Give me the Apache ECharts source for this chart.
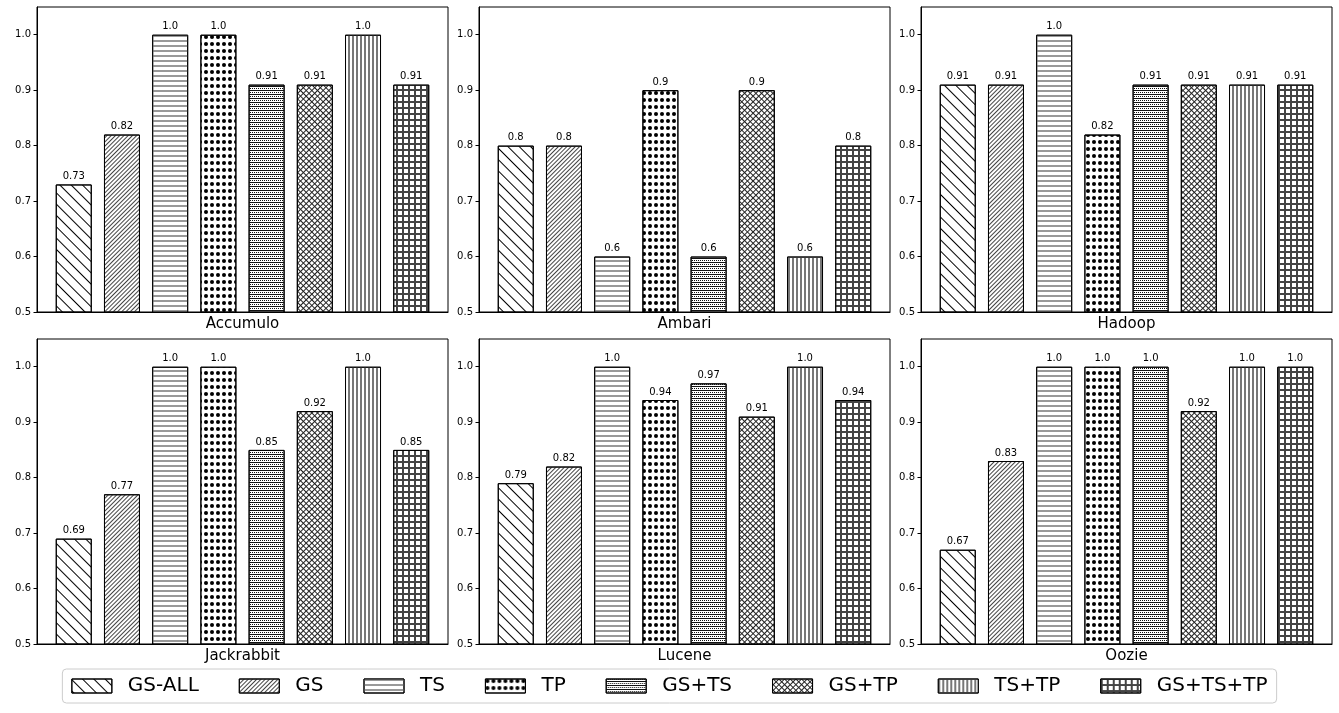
<!DOCTYPE html>
<html>
<head>
<meta charset="utf-8">
<title>Bars</title>
<script src="https://cdn.jsdelivr.net/npm/echarts@6/dist/echarts.min.js"></script>
<style>
    html, body { margin: 0; padding: 0; background: #fff; }
    #chart { width: 1339px; height: 713px; }
</style>
</head>
<body>
<div id="chart"></div>
<script>
// 方法 / 项目
var methods = ['GS-ALL', 'GS', 'TS', 'TP', 'GS+TS', 'GS+TP', 'TS+TP', 'GS+TS+TP'];
var projects = ['Accumulo', 'Ambari', 'Hadoop', 'Jackrabbit', 'Lucene', 'Oozie'];

// 每个项目的数值 (顺序同 methods)
var accumulo   = [0.73, 0.82, 1.0, 1.0, 0.91, 0.91, 1.0, 0.91];
var ambari     = [0.8, 0.8, 0.6, 0.9, 0.6, 0.9, 0.6, 0.8];
var hadoop     = [0.91, 0.91, 1.0, 0.82, 0.91, 0.91, 0.91, 0.91];
var jackrabbit = [0.69, 0.77, 1.0, 1.0, 0.85, 0.92, 1.0, 0.85];
var lucene     = [0.79, 0.82, 1.0, 0.94, 0.97, 0.91, 1.0, 0.94];
var oozie      = [0.67, 0.83, 1.0, 1.0, 1.0, 0.92, 1.0, 1.0];
var values = [accumulo, ambari, hadoop, jackrabbit, lucene, oozie];

var yTicks = [0.5, 0.6, 0.7, 0.8, 0.9, 1.0];

var FONT = 'DejaVu Sans';

// 填充纹理 (模仿 hatch)
var decals = [
    { symbol: 'rect', color: '#000', dashArrayX: [1, 0], dashArrayY: [1, 7], rotation: Math.PI / 4 },
    { symbol: 'rect', color: '#444', dashArrayX: [1, 0], dashArrayY: [1, 2], rotation: -Math.PI / 4 },
    { symbol: 'rect', color: '#999', dashArrayX: [1, 0], dashArrayY: [2, 3] },
    { symbol: 'circle', color: '#000', dashArrayX: [4, 2], dashArrayY: [4, 3], symbolSize: 1 },
    { symbol: 'rect', color: '#111', dashArrayX: [[1, 0], [1, 1]], dashArrayY: [1, 1] },
    { symbol: 'rect', color: '#222', dashArrayX: [[1, 0], [1, 3], [1, 3], [1, 3]], dashArrayY: [1, 0], rotation: Math.PI / 4 },
    { symbol: 'rect', color: '#777', dashArrayX: [2, 2], dashArrayY: [1, 0] },
    { symbol: 'rect', color: '#444', dashArrayX: [[2, 0], [2, 0], [2, 4], [2, 4], [2, 4], [2, 4]], dashArrayY: [1, 0] }
];

var lefts = [37, 479, 921];
var tops = [7, 339];

function fmt(v) {
    return v % 1 === 0 ? v.toFixed(1) : String(v);
}

var grids = [], xAxes = [], yAxes = [], series = [];

for (var p = 0; p < projects.length; p++) {
    grids.push({
        left: lefts[p % 3], top: tops[Math.floor(p / 3)], width: 411, height: 305,
        show: true, borderColor: '#000', borderWidth: 1
    });
    xAxes.push({
        gridIndex: p, type: 'value', min: -0.7625, max: 7.7625,
        name: projects[p], nameLocation: 'middle', nameGap: 5,
        nameTextStyle: { fontFamily: FONT, fontSize: 15, color: '#000', verticalAlign: 'top' },
        axisLine: { show: true, onZero: false, lineStyle: { color: '#000', width: 1 } },
        axisTick: { show: false }, axisLabel: { show: false }, splitLine: { show: false }
    });
    yAxes.push({
        gridIndex: p, type: 'value', min: 0.5, max: 1.05, interval: 0.1,
        axisLine: { show: true, onZero: false, lineStyle: { color: '#000', width: 1 } },
        axisTick: { show: true, length: 3.5, customValues: yTicks, lineStyle: { color: '#000' } },
        axisLabel: {
            customValues: yTicks, margin: 6, fontFamily: FONT, fontSize: 10, color: '#000',
            formatter: function (v) { return v.toFixed(1); }
        },
        splitLine: { show: false }
    });
    for (var m = 0; m < methods.length; m++) {
        series.push({
            type: 'bar', name: methods[m], xAxisIndex: p, yAxisIndex: p,
            barWidth: 36, barGap: '-100%',
            data: [[m, values[p][m]]],
            itemStyle: { color: '#fff', borderColor: '#000', borderWidth: 1, decal: decals[m] },
            label: {
                show: true, position: 'top', distance: 3,
                fontFamily: FONT, fontSize: 10, color: '#000',
                formatter: function (params) { return fmt(params.value[1]); }
            },
            emphasis: { disabled: true },
            silent: true
        });
    }
}

var chart = echarts.init(document.getElementById('chart'), null, { renderer: 'canvas' });
chart.setOption({
    animation: false,
    backgroundColor: '#fff',
    legend: {
        data: methods, left: 'center', top: 669,
        padding: [7, 9], itemGap: 40, itemWidth: 40, itemHeight: 14,
        borderColor: '#ccc', borderWidth: 1, borderRadius: 4,
        icon: 'rect',
        itemStyle: { borderColor: '#000', borderWidth: 1 },
        textStyle: { fontFamily: FONT, fontSize: 20, color: '#000', padding: [0, 0, 0, 11] }
    },
    grid: grids,
    xAxis: xAxes,
    yAxis: yAxes,
    series: series
});
</script>
</body>
</html>
